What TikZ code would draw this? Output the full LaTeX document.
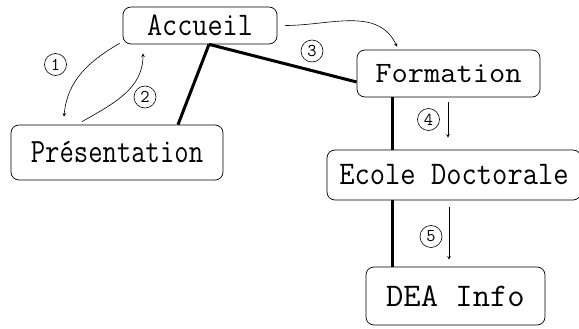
\documentclass[tikz,border=0pt]{standalone}
\usepackage{fontspec}
\usepackage{tikz}
\usetikzlibrary{arrows, positioning, calc}
\tikzset{>=stealth}
\newcommand\boxfont[2]{\fontspec{Latin Modern Mono}[FakeStretch=#2]\fontsize{#1}{#1}\selectfont}
\tikzset{
	box/.style={draw, rounded corners=8pt, inner sep=0pt, line width=0.7pt},
	txt/.style 2 args={font={\boxfont{#1}{#2}}},
	link/.style={line width=3pt},
	nav/.style={->, line width=0.6pt},
	num/.style={circle, draw, inner sep=0pt, minimum size=22pt, line width=0.6pt,
		font=\ttfamily\fontsize{18pt}{18pt}\selectfont}
}

\begin{document}
\begin{tikzpicture}[>=stealth, x=1pt, y=-1pt]
		\useasboundingbox (0,0) rectangle (579,329);
		
		\node (acc) at (200,25.5) [box, minimum width=154pt, minimum height=37pt, txt={33}{0.89}] {Accueil};
		\node (pres) at (117,152.5) [box, minimum width=212pt, minimum height=55pt, txt={34}{0.82}] {Présentation};
		\node (form) at (448.5,73.5) [box, minimum width=183pt, minimum height=47pt, txt={29.5}{1.07}] {Formation};
		\node (ecole) at (454,175) [box, minimum width=254pt, minimum height=50pt, txt={33}{0.9}] {Ecole Doctorale};
		\node (dea) at (455.5,296) [box, minimum width=179pt, minimum height=58pt, txt={33}{1.02}] {DEA Info};
		
		% liens du plan
		\draw [link] ([xshift=9pt]acc.south) -- ([xshift=61pt]pres.north);
		\draw [link] ([xshift=9pt]acc.south) -- ([yshift=-8.5pt]form.west);
		\draw [link] ([xshift=-56.5pt]form.south) -- ([xshift=-62pt]ecole.north);
		\draw [link] ([xshift=-62pt]ecole.south) -- ([xshift=-63.5pt]dea.north);
		
		% parcours
		\draw [nav] ([xshift=-3pt,yshift=1pt]acc.south west) to [out=-150, in=85] ([xshift=-53pt,yshift=8pt]pres.north);
		\draw [nav] ([xshift=-35pt,yshift=3pt]pres.north) to [out=30, in=-90] ([xshift=-57pt,yshift=-9pt]acc.south);
		\draw [nav] ([xshift=8pt]acc.east) to [out=0, in=115] ([xshift=-51.5pt,yshift=3pt]form.north);
		\draw [nav] ([xshift=-0.5pt,yshift=-5pt]form.south) -- ([xshift=-6pt,yshift=12pt]ecole.north);
		\draw [nav] ([xshift=-5pt,yshift=-7pt]ecole.south) -- ([xshift=-6.5pt,yshift=7pt]dea.north);
		
		\node (n1) at (55.5,64.5) [num] {1};
		\node (n2) at (145,97) [num] {2};
		\node (n3) at (312,51) [num] {3};
		\node (n4) at (428.5,119.5) [num] {4};
		\node (n5) at (431,236.5) [num] {5};
		
		\end{tikzpicture}
\end{document}
